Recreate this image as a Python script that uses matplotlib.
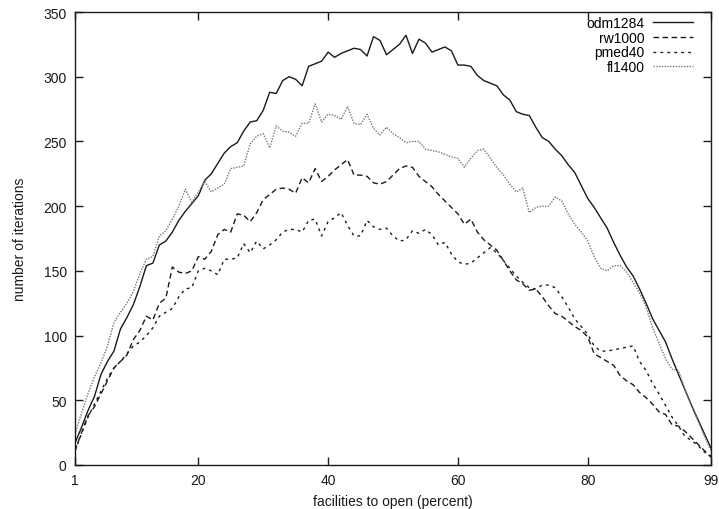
import matplotlib
matplotlib.use("Agg")
import matplotlib.pyplot as plt

plt.rcParams['font.family'] = ['Liberation Sans', 'DejaVu Sans']

# facilities to open (percent): 1..99
pct = list(range(1, 100))

odm1284 = [17, 29, 42, 53, 70, 80, 88, 105, 114, 124,
           138, 154, 156, 170, 173, 180, 189, 196, 202, 208,
           220, 225, 233, 241, 246, 249, 258, 265, 266, 274,
           288, 287, 297, 300, 298, 293, 308, 310, 312, 319,
           315, 318, 320, 322, 321, 316, 331, 328, 317, 321,
           325, 332, 318, 329, 326, 319, 321, 323, 320, 309,
           309, 308, 301, 297, 295, 293, 286, 282, 273, 271,
           270, 261, 253, 250, 244, 239, 232, 226, 216, 206,
           199, 191, 183, 172, 162, 153, 146, 136, 125, 113,
           104, 95, 82, 70, 58, 46, 35, 24, 13]

rw1000 = [11, 25, 38, 45, 55, 65, 75, 80, 85, 97,
          104, 115, 112, 125, 129, 153, 149, 148, 150, 161,
          159, 165, 178, 182, 180, 194, 193, 188, 195, 205,
          209, 213, 214, 213, 210, 222, 218, 229, 219, 223,
          228, 232, 236, 224, 224, 223, 218, 217, 219, 224,
          229, 231, 230, 223, 219, 215, 209, 204, 199, 194,
          186, 190, 180, 174, 170, 166, 158, 150, 143, 140,
          135, 136, 130, 123, 117, 115, 111, 107, 104, 99,
          86, 83, 80, 77, 69, 65, 62, 56, 52, 47,
          41, 39, 31, 30, 26, 21, 16, 11, 6]

pmed40 = [11, 24, 37, 47, 57, 67, 75, 80, 86, 92,
          95, 100, 106, 115, 118, 121, 130, 136, 137, 150,
          152, 150, 147, 159, 159, 160, 171, 164, 173, 167,
          170, 174, 180, 182, 182, 180, 189, 190, 177, 188,
          191, 195, 185, 177, 177, 189, 184, 182, 183, 177,
          173, 174, 181, 179, 182, 178, 170, 172, 163, 157,
          155, 156, 160, 164, 168, 164, 158, 152, 146, 141,
          137, 136, 139, 139, 137, 130, 122, 113, 107, 101,
          92, 88, 88, 89, 90, 91, 92, 80, 73, 63,
          55, 46, 37, 30, 22, 19, 15, 10, 7]

fl1400 = [24, 40, 55, 68, 79, 92, 110, 118, 125, 134,
          148, 159, 161, 177, 181, 190, 200, 213, 203, 211,
          219, 211, 214, 217, 229, 230, 231, 248, 254, 256,
          245, 262, 258, 257, 254, 264, 264, 279, 265, 271,
          270, 267, 277, 264, 263, 271, 260, 255, 261, 256,
          253, 249, 250, 250, 244, 243, 242, 240, 238, 237,
          230, 237, 243, 244, 237, 230, 224, 217, 211, 214,
          195, 199, 200, 200, 207, 204, 194, 186, 180, 173,
          161, 152, 150, 154, 154, 149, 141, 133, 122, 106,
          94, 82, 74, 73, 58, 46, 34, 22, 11]

fig = plt.figure(figsize=(7.19, 5.10), dpi=100)
ax = fig.add_axes([75 / 719, 44 / 510, 636 / 719, 453 / 510])

ax.plot(pct, odm1284, color='#1a1a1a', lw=1.0, ls='-', label='odm1284')
ax.plot(pct, rw1000, color='#1a1a1a', lw=1.0, ls=(0, (4, 2.5)), label='rw1000')
ax.plot(pct, pmed40, color='#1a1a1a', lw=1.0, ls=(0, (2, 3)), label='pmed40')
ax.plot(pct, fl1400, color='#777777', lw=1.0, ls=(0, (1, 1)), label='fl1400')

ax.set_xlim(1, 99)
ax.set_ylim(0, 350)
ax.set_xticks([1, 20, 40, 60, 80, 99])
ax.set_yticks(range(0, 351, 50))
ax.tick_params(direction='in', length=6, width=1, top=True, right=True,
               labelsize=10, colors='#1a1a1a', pad=6)
for s in ax.spines.values():
    s.set_linewidth(1.0)
    s.set_color('#1a1a1a')

ax.set_xlabel('facilities to open (percent)', fontsize=10, color='#1a1a1a', labelpad=5)
ax.set_ylabel('number of iterations', fontsize=10, color='#1a1a1a', labelpad=12)

# gnuplot-style key: label right-aligned, sample to its right
ax.legend(loc='upper right', bbox_to_anchor=(1 - 18 / 636, 1 - 4 / 453),
          frameon=False, markerfirst=False, fontsize=10,
          handlelength=2.9, handletextpad=0.6, labelspacing=0.05,
          borderaxespad=0, borderpad=0)

fig.savefig('out.png', dpi=100)
